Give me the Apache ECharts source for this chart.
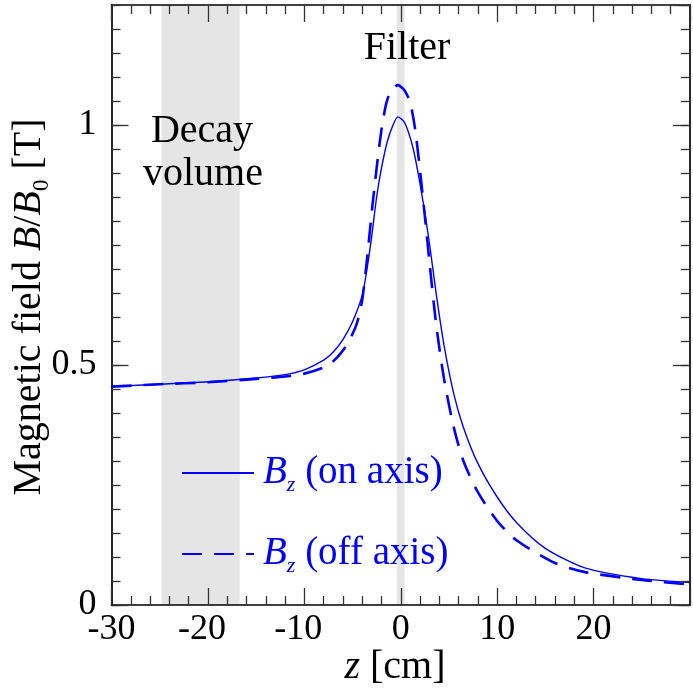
<!DOCTYPE html>
<html><head><meta charset="utf-8">
<script src="https://cdn.jsdelivr.net/npm/echarts@6/dist/echarts.min.js"></script>
<style>html,body{margin:0;padding:0;background:#fff}#c{width:693px;height:688px}</style>
</head><body><div id="c"></div>
<script>
// ---- data (z in cm, B/B0) ----
const zOnAxis  = [-30,-25,-20,-15,-12,-10,-8,-7,-6,-5,-4,-3.5,-3,-2.5,-2,-1.4,-0.8,-0.3,0.3,0.8,1.3,1.8,2.4,3,3.7,4.5,5.5,6.5,8,10,12,15,19,25,30];
const bOnAxis  = [0.455,0.46,0.465,0.473,0.48,0.49,0.51,0.527,0.553,0.59,0.645,0.7,0.77,0.85,0.91,0.965,1.0,1.017,1.008,0.985,0.95,0.9,0.83,0.75,0.645,0.54,0.44,0.37,0.295,0.225,0.172,0.118,0.078,0.055,0.047];
const zOffAxis = [-30,-25,-20,-15,-12,-10,-8,-7,-6,-5,-4.5,-4,-3.5,-3,-2.5,-2,-1.5,-1,-0.3,0.4,1,1.5,2,2.5,3,3.7,4.5,5.5,6.5,8,10,12,16,19,25,30];
const bOffAxis = [0.455,0.46,0.464,0.471,0.476,0.482,0.495,0.508,0.53,0.565,0.59,0.635,0.72,0.82,0.91,0.99,1.045,1.072,1.083,1.072,1.045,0.99,0.905,0.81,0.71,0.58,0.47,0.37,0.3,0.235,0.175,0.135,0.0875,0.069,0.052,0.043];
const xTickLabels = [-30,-20,-10,0,10,20];
const yTickLabels = [0,0.5,1];
const decayVolume = [-24.8,-16.7];
const filterRegion = [-0.4,0.4];
const seriesNames = ['on','off'];

const FF = '"Liberation Serif","Times New Roman",serif';
const BLUE = '#0000ff';
const tickColor = '#333';

function pairs(xs, ys){ return xs.map((x,i)=>[x, ys[i]]); }

const chart = echarts.init(document.getElementById('c'));

const commonX = {
  type:'value', min:-30, max:30, interval:10, gridIndex:0, z:10,
  axisLine:{show:true, onZero:false, lineStyle:{color:'#000', width:1.7}},
  axisTick:{show:true, inside:true, length:17, lineStyle:{color:tickColor, width:1.3}},
  minorTick:{show:true, splitNumber:5, length:9, lineStyle:{color:tickColor, width:1.3}},
  splitLine:{show:false}, minorSplitLine:{show:false}
};
const majorY = {
  type:'value', min:0, max:1.25, interval:0.5, gridIndex:0, z:10,
  axisLine:{show:true, onZero:false, lineStyle:{color:'#000', width:1.7}},
  axisTick:{show:true, inside:true, length:17, lineStyle:{color:tickColor, width:1.3}},
  splitLine:{show:false}
};
const minorY = {
  type:'value', min:0, max:1.25, interval:0.05, gridIndex:0, z:10,
  axisLine:{show:false, onZero:false},
  axisTick:{show:true, inside:true, length:9, lineStyle:{color:tickColor, width:1.3}},
  axisLabel:{show:false},
  splitLine:{show:false}
};

const option = {
  animation:false,
  backgroundColor:'#fff',
  grid:{left:111.5, top:5, right:-4, bottom:83, containLabel:false},
  xAxis:[
    Object.assign({}, commonX, {position:'bottom',
      axisLabel:{show:true, margin:7, fontFamily:FF, fontSize:36, color:'#000',
        formatter:function(v){
          if (xTickLabels.indexOf(v) < 0) return '';
          if (v < 0 && v !== -30) return v + '{h|-}';
          return String(v);
        },
        rich:{h:{color:'rgba(0,0,0,0)', fontFamily:FF, fontSize:36}}
      }}),
    Object.assign({}, commonX, {position:'top', axisLabel:{show:false}})
  ],
  yAxis:[
    Object.assign({}, majorY, {position:'left',
      axisLabel:{show:true, margin:15, fontFamily:FF, fontSize:36, color:'#000', showMaxLabel:false,
        formatter:function(v){ return yTickLabels.indexOf(v) >= 0 ? String(v) : ''; }}}),
    Object.assign({}, minorY, {position:'left'}),
    Object.assign({}, majorY, {position:'right', axisLabel:{show:false}}),
    Object.assign({}, minorY, {position:'right'})
  ],
  legend:{
    data:seriesNames, orient:'vertical', left:181, top:450, padding:0,
    itemWidth:72, itemHeight:14, itemGap:35,
    itemStyle:{color:'rgba(0,0,0,0)', borderColor:'rgba(0,0,0,0)', borderWidth:0},
    textStyle:{fontFamily:FF, fontSize:39, color:BLUE, lineHeight:46,
      rich:{
        i:{fontFamily:FF, fontSize:39, fontStyle:'italic', color:BLUE, lineHeight:46, padding:[0,0,0,4]},
        s:{fontFamily:FF, fontSize:22, fontStyle:'italic', color:BLUE, lineHeight:22, verticalAlign:'bottom'},
        r:{fontFamily:FF, fontSize:39, color:BLUE, lineHeight:46}
      }},
    formatter:function(n){ return n === 'on' ? '{i|B}{s|z}{r| (on axis)}' : '{i|B}{s|z}{r| (off axis)}'; }
  },
  graphic:[
    {type:'text', x:407, y:48, z:100, style:{text:'Filter', align:'center', verticalAlign:'middle', font:'40px ' + FF, fill:'#000'}},
    {type:'text', x:202, y:131, z:100, style:{text:'Decay', align:'center', verticalAlign:'middle', font:'40px ' + FF, fill:'#000'}},
    {type:'text', x:203, y:174, z:100, style:{text:'volume', align:'center', verticalAlign:'middle', font:'40px ' + FF, fill:'#000'}},
    {type:'text', x:395, y:667, z:100, style:{text:'{i|z} [cm]', align:'center', verticalAlign:'middle', font:'40px ' + FF, fill:'#000',
      rich:{i:{fontStyle:'italic', fontFamily:FF, fontSize:40, fill:'#000'}}}},
    {type:'text', x:29, y:307, rotation:Math.PI/2, z:100, style:{
      text:'Magnetic field {i|B}/{i|B}{s|0} [T]', align:'center', verticalAlign:'middle', font:'40px ' + FF, fill:'#000',
      rich:{i:{fontStyle:'italic', fontFamily:FF, fontSize:40, fill:'#000', lineHeight:48},
            s:{fontFamily:FF, fontSize:23, fill:'#000', lineHeight:23, verticalAlign:'bottom'}}}}
  ],
  series:[
    {type:'line', name:'regions', data:[], z:1, silent:true,
      markArea:{silent:true, itemStyle:{color:'#e5e5e5', opacity:1}, label:{show:false},
        data:[[{xAxis:decayVolume[0]},{xAxis:decayVolume[1]}],[{xAxis:filterRegion[0]},{xAxis:filterRegion[1]}]]}},
    {type:'line', name:'on', data:pairs(zOnAxis,bOnAxis), showSymbol:false, symbol:'none', smooth:0.25, z:3,
      itemStyle:{color:BLUE}, lineStyle:{color:BLUE, width:1.4, type:'solid'}},
    {type:'line', name:'off', data:pairs(zOffAxis,bOffAxis), showSymbol:false, symbol:'none', smooth:0.25, z:3,
      itemStyle:{color:BLUE}, lineStyle:{color:BLUE, width:2.6, type:[20,12]}}
  ]
};
chart.setOption(option);
</script></body></html>
